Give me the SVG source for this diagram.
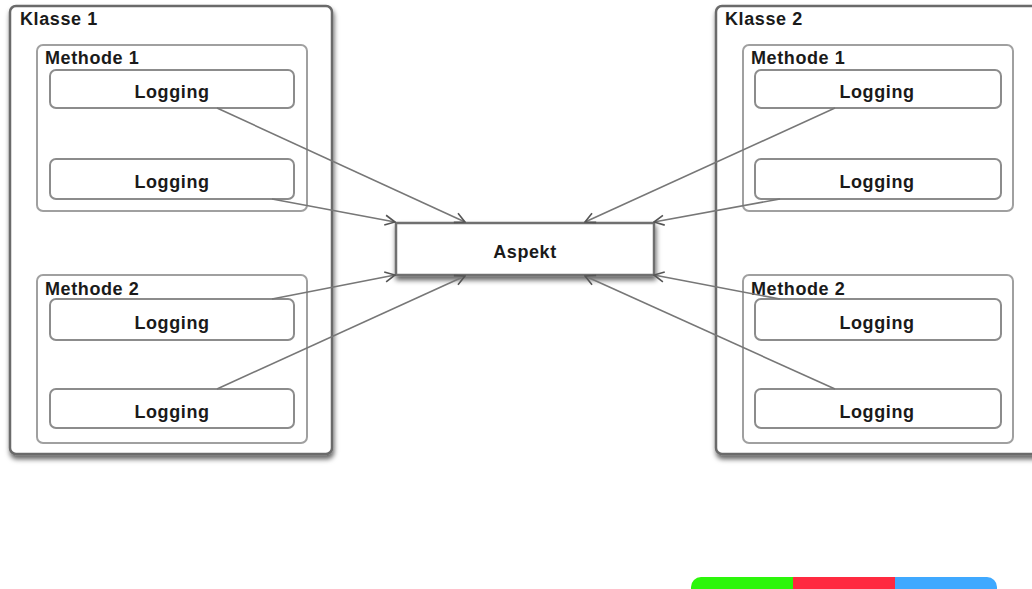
<svg xmlns="http://www.w3.org/2000/svg" width="1032" height="589" viewBox="0 0 1032 589">
  <defs>
    <style>
      .klasse { fill: #fff; stroke: #6a6a6a; stroke-width: 2.5; }
      .methode { fill: #fff; stroke: #a0a0a0; stroke-width: 2; }
      .log { fill: #fff; stroke: #8c8c8c; stroke-width: 2; }
      .aspekt { fill: #fff; stroke: #707070; stroke-width: 2.5; }
      .t { font-family: "Liberation Sans", Arial, sans-serif; font-weight: bold; font-size: 18px; letter-spacing: 0.6px; fill: #1a1a1a; }
      .c { text-anchor: middle; }
      .conn { stroke: #777; stroke-width: 1.6; fill: none; marker-end: url(#arrow); }
    </style>
    <filter id="shadow" x="-10%" y="-10%" width="130%" height="130%">
      <feDropShadow dx="1" dy="4" stdDeviation="2.5" flood-color="#000" flood-opacity="0.6"/>
    </filter>
    <marker id="arrow" viewBox="0 0 12 12" refX="11" refY="6" markerWidth="12" markerHeight="12" markerUnits="userSpaceOnUse" orient="auto">
      <path d="M1,1 L11,6 L1,11" fill="none" stroke="#555" stroke-width="1.6"/>
    </marker>
  </defs>

  <rect width="1032" height="589" fill="#fff"/>

  <!-- Klasse 1 -->
  <g id="klasse1">
    <rect class="klasse" x="10" y="6" width="322" height="448" rx="6" filter="url(#shadow)"/>
    <text class="t" x="20" y="25">Klasse 1</text>
  </g>
  <g id="k1-methode1">
    <rect class="methode" x="37" y="45" width="270" height="166" rx="6"/>
    <text class="t" x="45" y="64">Methode 1</text>
  </g>
  <g id="k1-m1-logging1">
    <rect class="log" x="50" y="70" width="244" height="38" rx="6"/>
    <text class="t c" x="172" y="98">Logging</text>
  </g>
  <g id="k1-m1-logging2">
    <rect class="log" x="50" y="159" width="244" height="40" rx="6"/>
    <text class="t c" x="172" y="188">Logging</text>
  </g>
  <g id="k1-methode2">
    <rect class="methode" x="37" y="275" width="270" height="168" rx="6"/>
    <text class="t" x="45" y="295">Methode 2</text>
  </g>
  <g id="k1-m2-logging1">
    <rect class="log" x="50" y="299" width="244" height="41" rx="6"/>
    <text class="t c" x="172" y="329">Logging</text>
  </g>
  <g id="k1-m2-logging2">
    <rect class="log" x="50" y="389" width="244" height="39" rx="6"/>
    <text class="t c" x="172" y="418">Logging</text>
  </g>

  <!-- Klasse 2 -->
  <g id="klasse2">
    <rect class="klasse" x="716" y="6" width="330" height="448" rx="6" filter="url(#shadow)"/>
    <text class="t" x="725" y="25">Klasse 2</text>
  </g>
  <g id="k2-methode1">
    <rect class="methode" x="743" y="45" width="270" height="166" rx="6"/>
    <text class="t" x="751" y="64">Methode 1</text>
  </g>
  <g id="k2-m1-logging1">
    <rect class="log" x="755" y="70" width="246" height="38" rx="6"/>
    <text class="t c" x="877" y="98">Logging</text>
  </g>
  <g id="k2-m1-logging2">
    <rect class="log" x="755" y="159" width="246" height="40" rx="6"/>
    <text class="t c" x="877" y="188">Logging</text>
  </g>
  <g id="k2-methode2">
    <rect class="methode" x="743" y="275" width="270" height="168" rx="6"/>
    <text class="t" x="751" y="295">Methode 2</text>
  </g>
  <g id="k2-m2-logging1">
    <rect class="log" x="755" y="299" width="246" height="41" rx="6"/>
    <text class="t c" x="877" y="329">Logging</text>
  </g>
  <g id="k2-m2-logging2">
    <rect class="log" x="755" y="389" width="246" height="39" rx="6"/>
    <text class="t c" x="877" y="418">Logging</text>
  </g>

  <!-- Aspekt -->
  <g id="aspekt">
    <rect class="aspekt" x="396" y="223" width="258" height="52" filter="url(#shadow)"/>
    <text class="t c" x="525" y="258">Aspekt</text>
  </g>

  <!-- connectors -->
  <g id="connectors">
    <line class="conn" x1="217" y1="108" x2="465" y2="222"/>
    <line class="conn" x1="272" y1="199" x2="395" y2="222"/>
    <line class="conn" x1="272" y1="299" x2="395" y2="275"/>
    <line class="conn" x1="217" y1="389" x2="465" y2="276"/>
    <line class="conn" x1="835" y1="108" x2="585" y2="222"/>
    <line class="conn" x1="780" y1="199" x2="654" y2="222"/>
    <line class="conn" x1="780" y1="299" x2="654" y2="275"/>
    <line class="conn" x1="835" y1="389" x2="585" y2="276"/>
  </g>

  <!-- colour strip -->
  <g id="strip">
    <clipPath id="stripClip">
      <rect x="691" y="577" width="306" height="24" rx="10"/>
    </clipPath>
    <g clip-path="url(#stripClip)">
      <rect x="691" y="577" width="102" height="12" fill="#2cf60a"/>
      <rect x="793" y="577" width="102" height="12" fill="#ff2a40"/>
      <rect x="895" y="577" width="102" height="12" fill="#3fa9ff"/>
    </g>
  </g>
</svg>
